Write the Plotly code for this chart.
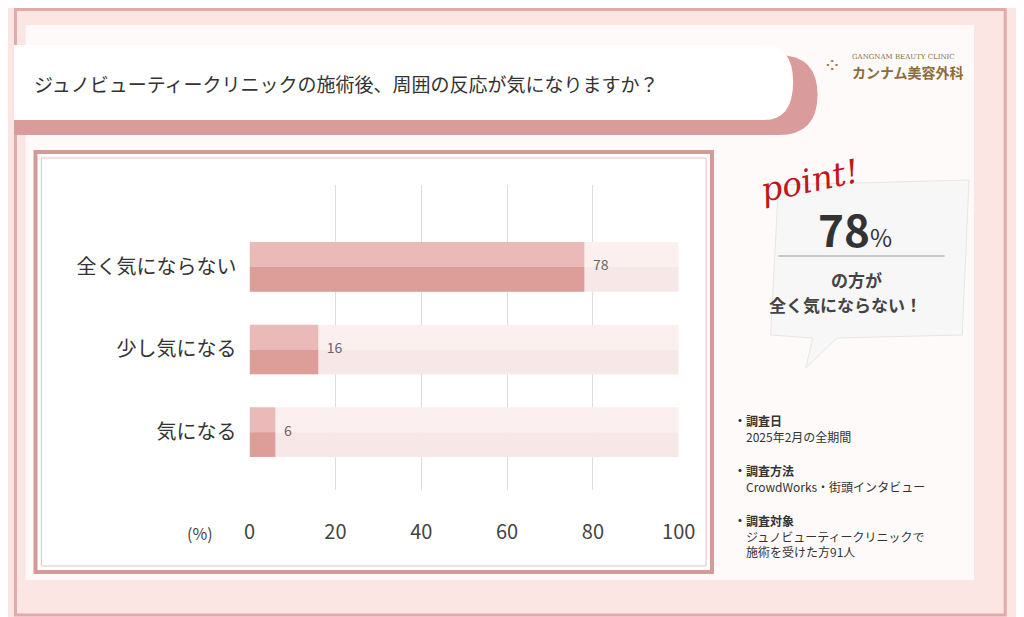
import plotly.graph_objects as go

categories = ["全く気にならない", "少し気になる", "気になる"]
values = [78, 16, 6]
full_value = 100
x_ticks = [0, 20, 40, 60, 80, 100]

title = "ジュノビューティークリニックの施術後、周囲の反応が気になりますか？"
notes = [
    ("・調査日", "2025年2月の全期間"),
    ("・調査方法", "CrowdWorks・街頭インタビュー"),
    ("・調査対象", "ジュノビューティークリニックで<br>施術を受けた方91人"),
]

FONT = "Noto Sans CJK JP"
W, H = 1024, 617
OFF = 8  # page body margin


def X(px):
    return (px - OFF) / W


def Y(py):
    return 1 - (py - OFF) / H


ypos = [2, 1, 0]
half = 0.3

fig = go.Figure()
# background track (full 100), then value bars; each split into a light top half and darker bottom half
for xs, top_c, bot_c in [
    ([full_value] * 3, "#fbefef", "#f8e7e7"),
    (values, "#e9bab7", "#dd9d99"),
]:
    fig.add_trace(go.Bar(x=xs, y=[p + half / 2 for p in ypos], width=half, orientation="h",
                         marker=dict(color=top_c, line_width=0), hoverinfo="skip"))
    fig.add_trace(go.Bar(x=xs, y=[p - half / 2 for p in ypos], width=half, orientation="h",
                         marker=dict(color=bot_c, line_width=0), hoverinfo="skip"))

fig.add_trace(go.Scatter(x=[v + 2 for v in values], y=ypos, mode="text", text=[str(v) for v in values],
                         textposition="middle right", textfont=dict(size=14, color="#666", family=FONT),
                         hoverinfo="skip"))

shapes = [
    # page frame
    dict(type="rect", xref="paper", yref="paper", x0=X(9.5), x1=X(1022), y0=Y(615), y1=Y(9.5),
         line=dict(color="#e2aaa8", width=3), fillcolor="rgba(0,0,0,0)", layer="below"),
    # card
    dict(type="rect", xref="paper", yref="paper", x0=X(20), x1=X(990), y0=Y(580), y1=Y(25),
         line_width=0, fillcolor="#fffafa", layer="below"),
    # title banner shadow + banner
    dict(type="path", xref="paper", yref="paper",
         path=f"M {X(8)} {Y(55)} L {X(790)} {Y(55)} Q {X(830)} {Y(55)} {X(830)} {Y(95)} Q {X(830)} {Y(135)} {X(790)} {Y(135)} L {X(8)} {Y(135)} Z",
         line_width=0, fillcolor="#d99c9a", layer="below"),
    dict(type="path", xref="paper", yref="paper",
         path=f"M {X(8)} {Y(45)} L {X(775)} {Y(45)} Q {X(805)} {Y(45)} {X(805)} {Y(82)} Q {X(805)} {Y(120)} {X(775)} {Y(120)} L {X(8)} {Y(120)} Z",
         line_width=0, fillcolor="#ffffff", layer="below"),
    # chart box
    dict(type="rect", xref="paper", yref="paper", x0=X(30), x1=X(722), y0=Y(572), y1=Y(152),
         line=dict(color="#d49a98", width=4), fillcolor="#ffffff", layer="below"),
    dict(type="rect", xref="paper", yref="paper", x0=X(36), x1=X(716), y0=Y(566), y1=Y(158),
         line=dict(color="#e8c0be", width=1), fillcolor="rgba(0,0,0,0)", layer="below"),
    # point bubble
    dict(type="path", xref="paper", yref="paper",
         path=f"M {X(790)} {Y(185)} L {X(985)} {Y(180)} L {X(978)} {Y(335)} L {X(850)} {Y(338)} "
              f"L {X(818)} {Y(368)} L {X(825)} {Y(338)} L {X(782)} {Y(335)} Z",
         line=dict(color="#e6e6e6", width=1), fillcolor="#f7f7f7", layer="below"),
    dict(type="line", xref="paper", yref="paper", x0=X(790), x1=X(960), y0=Y(256), y1=Y(256),
         line=dict(color="#999", width=1)),
]

P = dict(xref="paper", yref="paper", showarrow=False, xanchor="left", yanchor="middle")
ann = [
    dict(x=X(26), y=Y(83), text=title, font=dict(size=19, color="#333", family=FONT), **P),
    dict(x=X(183), y=Y(533), text="(%)", font=dict(size=16, color="#444", family=FONT), **P),
    dict(x=X(766), y=Y(180), text="<i>point!</i>", textangle=-12,
         font=dict(size=33, color="#c0171c", family="DejaVu Serif"), **P),
    dict(x=X(828), y=Y(228), text="<b>78</b><span style='font-size:24px'>%</span>",
         font=dict(size=44, color="#333", family=FONT), **P),
    dict(x=X(842), y=Y(279), text="<b>の方が</b>", font=dict(size=17, color="#444", family=FONT), **P),
    dict(x=X(778), y=Y(304), text="<b>全く気にならない！</b>", font=dict(size=17, color="#444", family=FONT), **P),
    dict(x=X(863), y=Y(57), text="GANGNAM BEAUTY CLINIC",
         font=dict(size=7, color="#8a6d3b", family="DejaVu Serif"), **P),
    dict(x=X(863), y=Y(72), text="<b>カンナム美容外科</b>",
         font=dict(size=14, color="#8a6d3b", family=FONT), **P),
    dict(x=X(834), y=Y(66), text="⁘", font=dict(size=22, color="#a0803f", family="DejaVu Sans"), **P),
]
ny = 410
for head, body in notes:
    ann.append(dict(x=X(742), y=Y(ny), text="<b>" + head + "</b><br>　" + body.replace("<br>", "<br>　"),
                    xref="paper", yref="paper", showarrow=False, xanchor="left", yanchor="top", align="left",
                    font=dict(size=12, color="#333", family=FONT)))
    ny += 50

fig.update_layout(
    width=W, height=H, margin=dict(l=0, r=0, t=0, b=0),
    paper_bgcolor="#fce6e4", plot_bgcolor="rgba(0,0,0,0)",
    barmode="overlay", showlegend=False, shapes=shapes, annotations=ann,
    xaxis=dict(domain=[X(249), X(688)], range=[0, 100], tickvals=x_ticks,
               showgrid=True, gridcolor="#dddddd", gridwidth=1, zeroline=False,
               tickfont=dict(size=20, color="#444", family=FONT), ticks="", ticklabelstandoff=28,
               fixedrange=True),
    yaxis=dict(domain=[Y(490), Y(185)], range=[-0.70, 2.99], tickvals=ypos, ticktext=categories,
               showgrid=False, zeroline=False, ticks="",
               tickfont=dict(size=20, color="#333", family=FONT), ticklabelstandoff=12),
)

fig.write_html("out.html")
